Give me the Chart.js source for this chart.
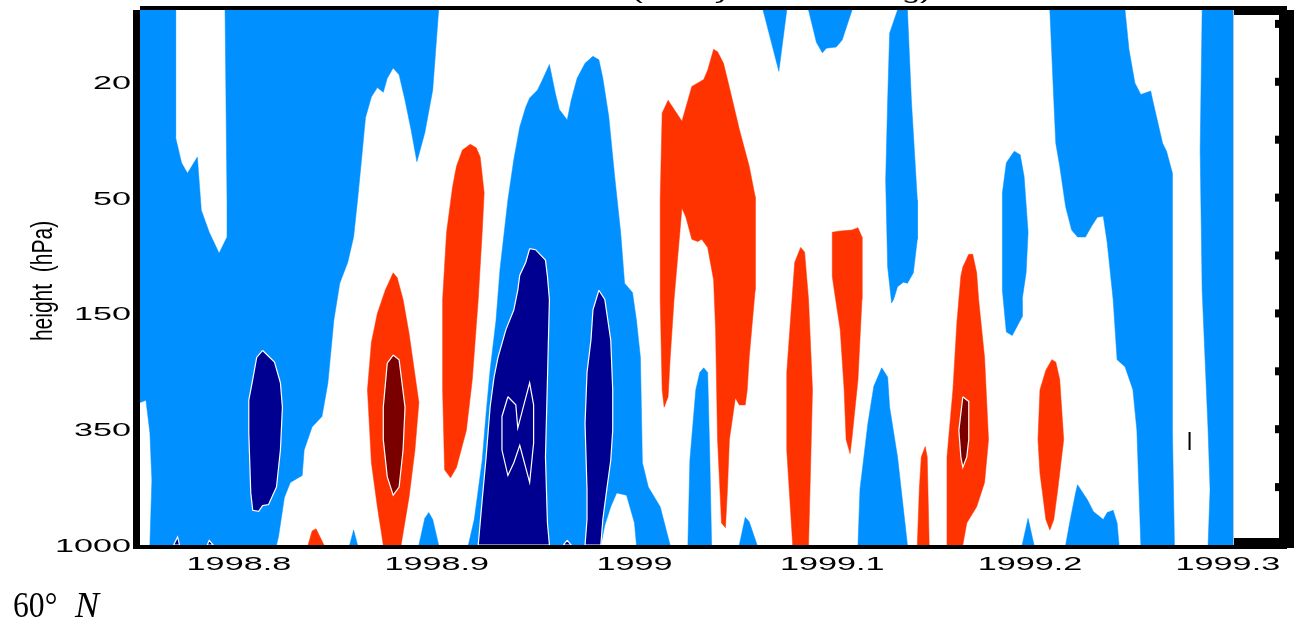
<!DOCTYPE html>
<html>
<head>
<meta charset="utf-8">
<script src="https://cdn.jsdelivr.net/npm/chart.js@4.4.1/dist/chart.umd.min.js"></script>
<style>
    html, body { margin: 0; padding: 0; background: #fff; }
    #wrap { width: 1296px; height: 625px; }
</style>
</head>
<body>
<div id="wrap"><canvas id="section" width="1296" height="625"></canvas></div>
<script>
// 横轴: 时间 (年)
const xTicks = [1998.8, 1998.9, 1999, 1999.1, 1999.2, 1999.3]
const xRange = [1998.75, 1999.3026]
// 纵轴: 模式层序号 0..4 对应的气压 (hPa)
const pressureLabels = ['1000', '350', '150', '50', '20']
const levelTop = 4.62

// 等值线填充区, 每个点为 [时间, 层序号]
// 弱负值 (浅蓝)
const negWeak = [
    [[1998.750,4.62],[1998.768,4.62],[1998.768,3.52],[1998.771,3.30],[1998.774,3.21],[1998.779,3.35],[1998.781,2.89],[1998.785,2.70],[1998.790,2.52],[1998.794,2.66],[1998.794,2.98],[1998.793,4.62],[1998.901,4.62],[1998.898,3.93],[1998.894,3.56],[1998.890,3.31],[1998.887,3.59],[1998.884,3.84],[1998.881,4.06],[1998.878,4.12],[1998.875,4.03],[1998.873,3.91],[1998.870,3.95],[1998.867,3.87],[1998.864,3.69],[1998.862,3.33],[1998.860,2.98],[1998.858,2.66],[1998.855,2.44],[1998.851,2.26],[1998.848,1.94],[1998.845,1.40],[1998.842,1.11],[1998.837,1.02],[1998.833,0.82],[1998.832,0.60],[1998.826,0.54],[1998.823,0.41],[1998.820,0.07],[1998.819,0],[1998.755,0],[1998.756,0.56],[1998.755,0.97],[1998.753,1.25],[1998.750,1.23]],
    [[1998.916,0],[1998.919,0.22],[1998.923,0.73],[1998.925,1.14],[1998.927,1.51],[1998.930,1.94],[1998.932,2.38],[1998.936,2.98],[1998.939,3.33],[1998.942,3.61],[1998.945,3.78],[1998.947,3.86],[1998.951,3.93],[1998.953,4.00],[1998.957,4.15],[1998.960,3.90],[1998.962,3.76],[1998.966,3.67],[1998.968,3.84],[1998.971,4.03],[1998.975,4.16],[1998.979,4.22],[1998.982,4.19],[1998.984,4.03],[1998.987,3.70],[1998.990,3.18],[1998.993,2.70],[1998.995,2.26],[1998.999,2.18],[1999.001,1.94],[1999.003,1.62],[1999.004,0.71],[1999.007,0.50],[1999.013,0.33],[1999.018,0],[1999.001,0],[1999.000,0.19],[1998.996,0.43],[1998.991,0.45],[1998.988,0.33],[1998.985,0.17],[1998.983,0]],
    [[1998.856,0],[1998.858,0.13],[1998.860,0]],
    [[1998.891,0],[1998.894,0.23],[1998.896,0.28],[1998.898,0.22],[1998.901,0]],
    [[1999.027,0],[1999.028,0.73],[1999.031,1.34],[1999.033,1.49],[1999.035,1.53],[1999.037,1.49],[1999.038,0.82],[1999.039,0]],
    [[1999.053,0],[1999.056,0.24],[1999.058,0.20],[1999.062,0]],
    [[1999.113,0],[1999.114,0.48],[1999.118,1.05],[1999.121,1.37],[1999.125,1.53],[1999.128,1.45],[1999.129,1.19],[1999.133,0.76],[1999.138,0]],
    [[1999.065,4.62],[1999.073,4.09],[1999.077,4.62]],
    [[1999.088,4.62],[1999.092,4.34],[1999.095,4.25],[1999.097,4.29],[1999.102,4.30],[1999.105,4.36],[1999.110,4.62]],
    [[1999.128,3.84],[1999.129,4.42],[1999.131,4.52],[1999.133,4.62],[1999.138,4.62],[1999.140,3.84],[1999.143,2.98],[1999.143,2.64],[1999.141,2.35],[1999.138,2.26],[1999.136,2.27],[1999.133,2.23],[1999.131,2.12],[1999.130,2.09],[1999.128,2.40],[1999.127,3.15]],
    [[1999.188,3.30],[1999.192,3.40],[1999.195,3.37],[1999.197,3.18],[1999.199,2.70],[1999.198,2.35],[1999.196,2.12],[1999.196,1.97],[1999.191,1.81],[1999.188,1.84],[1999.186,2.20],[1999.186,2.70],[1999.186,3.04]],
    [[1999.210,4.62],[1999.212,3.84],[1999.213,3.47],[1999.215,3.27],[1999.218,2.92],[1999.221,2.72],[1999.224,2.66],[1999.228,2.66],[1999.231,2.75],[1999.234,2.83],[1999.237,2.84],[1999.239,2.61],[1999.242,2.12],[1999.244,1.60],[1999.248,1.54],[1999.252,1.34],[1999.254,0.99],[1999.256,0],[1999.273,0],[1999.272,0.97],[1999.272,2.12],[1999.272,2.70],[1999.272,3.21],[1999.269,3.40],[1999.267,3.47],[1999.262,3.84],[1999.261,3.92],[1999.256,3.89],[1999.253,3.99],[1999.250,4.28],[1999.248,4.62]],
    [[1999.287,4.62],[1999.303,4.62],[1999.303,0],[1999.290,0],[1999.291,0.48],[1999.290,0.99],[1999.287,2.20],[1999.286,3.41]],
    [[1999.196,0],[1999.199,0.23],[1999.202,0]],
    [[1999.218,0],[1999.220,0.19],[1999.223,0.45],[1999.224,0.52],[1999.229,0.39],[1999.232,0.29],[1999.237,0.22],[1999.239,0.28],[1999.242,0.30],[1999.244,0.19],[1999.245,0]]
]
// 强负值 (深蓝)
const negStrong = [
    [[1998.812,1.68],[1998.818,1.58],[1998.821,1.40],[1998.822,1.19],[1998.821,0.82],[1998.819,0.50],[1998.815,0.35],[1998.812,0.34],[1998.810,0.29],[1998.807,0.30],[1998.806,0.45],[1998.805,0.97],[1998.805,1.25],[1998.807,1.43],[1998.809,1.62]],
    [[1998.947,2.56],[1998.950,2.55],[1998.955,2.46],[1998.956,2.32],[1998.957,2.12],[1998.956,1.43],[1998.955,0.76],[1998.956,0.19],[1998.957,0],[1998.921,0],[1998.923,0.39],[1998.925,0.76],[1998.927,1.19],[1998.929,1.45],[1998.931,1.62],[1998.935,1.86],[1998.939,2.03],[1998.941,2.20],[1998.942,2.33],[1998.945,2.44]],
    [[1998.982,2.20],[1998.985,2.12],[1998.988,1.77],[1998.989,1.34],[1998.989,0.99],[1998.988,0.73],[1998.986,0.48],[1998.984,0.22],[1998.983,0],[1998.975,0],[1998.976,0.22],[1998.976,0.48],[1998.975,1.05],[1998.976,1.49],[1998.978,1.77],[1998.979,2.03]],
    [[1998.767,0],[1998.769,0.07],[1998.770,0]],
    [[1998.784,0],[1998.785,0.04],[1998.787,0]],
    [[1998.964,0],[1998.966,0.04],[1998.968,0]]
]
// 最强负值 (只画等值线)
const negStrongest = [
    [[1998.936,1.28],[1998.940,1.21],[1998.941,1.01],[1998.947,1.40],[1998.949,1.21],[1998.949,0.88],[1998.947,0.54],[1998.942,0.86],[1998.939,0.71],[1998.936,0.60],[1998.933,0.82],[1998.933,1.11]]
]
// 弱正值 (橙红)
const posWeak = [
    [[1998.874,2.20],[1998.878,2.35],[1998.880,2.31],[1998.883,2.12],[1998.886,1.83],[1998.891,1.23],[1998.889,0.82],[1998.886,0.41],[1998.882,0],[1998.873,0],[1998.870,0.33],[1998.867,0.71],[1998.865,1.34],[1998.867,1.75],[1998.870,2.00]],
    [[1998.917,3.46],[1998.920,3.43],[1998.922,3.35],[1998.924,3.04],[1998.923,2.70],[1998.921,2.12],[1998.918,1.43],[1998.915,0.99],[1998.910,0.67],[1998.907,0.58],[1998.904,0.65],[1998.903,1.34],[1998.903,2.12],[1998.905,2.70],[1998.908,3.09],[1998.910,3.27],[1998.913,3.41]],
    [[1999.015,1.19],[1999.014,1.34],[1999.013,2.12],[1999.013,2.98],[1999.014,3.73],[1999.017,3.84],[1999.024,3.66],[1999.029,3.96],[1999.035,4.02],[1999.037,4.10],[1999.040,4.28],[1999.042,4.26],[1999.045,4.16],[1999.048,3.95],[1999.053,3.59],[1999.058,3.27],[1999.061,3.01],[1999.061,2.20],[1999.058,1.62],[1999.057,1.34],[1999.056,1.21],[1999.053,1.21],[1999.051,1.27],[1999.048,0.91],[1999.047,0.48],[1999.046,0.15],[1999.044,0.19],[1999.042,0.91],[1999.041,1.86],[1999.040,2.29],[1999.037,2.57],[1999.034,2.64],[1999.032,2.62],[1999.029,2.64],[1999.026,2.83],[1999.024,2.91],[1999.020,2.12],[1999.018,1.60],[1999.017,1.28]],
    [[1999.084,2.57],[1999.086,2.53],[1999.088,2.12],[1999.090,1.34],[1999.089,0.65],[1999.088,0],[1999.080,0],[1999.077,0.82],[1999.077,1.49],[1999.079,1.97],[1999.081,2.44]],
    [[1999.100,2.70],[1999.103,2.71],[1999.110,2.72],[1999.113,2.74],[1999.115,2.66],[1999.115,2.12],[1999.113,1.43],[1999.110,0.93],[1999.109,0.79],[1999.107,0.91],[1999.106,1.34],[1999.104,1.86],[1999.101,2.20],[1999.100,2.32]],
    [[1999.166,2.40],[1999.169,2.51],[1999.171,2.51],[1999.173,2.35],[1999.174,2.12],[1999.177,1.62],[1999.179,0.91],[1999.177,0.54],[1999.173,0.33],[1999.168,0.19],[1999.166,0],[1999.158,0],[1999.158,0.76],[1999.161,1.34],[1999.163,1.92],[1999.165,2.32]],
    [[1999.147,0.85],[1999.148,0.76],[1999.149,0],[1999.143,0],[1999.144,0.48],[1999.145,0.76]],
    [[1999.211,1.60],[1999.213,1.58],[1999.215,1.43],[1999.217,0.91],[1999.214,0.48],[1999.212,0.22],[1999.210,0.13],[1999.208,0.22],[1999.205,0.62],[1999.204,0.91],[1999.205,1.34],[1999.208,1.51]],
    [[1998.835,0],[1998.837,0.12],[1998.839,0.14],[1998.843,0]]
]
// 强正值 (暗红)
const posStrong = [
    [[1998.878,1.64],[1998.881,1.60],[1998.884,1.19],[1998.883,0.82],[1998.881,0.50],[1998.878,0.43],[1998.875,0.59],[1998.873,0.91],[1998.873,1.19],[1998.875,1.57]],
    [[1999.166,1.28],[1999.169,1.24],[1999.169,0.91],[1999.168,0.76],[1999.166,0.67],[1999.165,0.76],[1999.164,0.99]]
]

// 从下到上的叠放顺序
const bands = [
    { shapes: negWeak, color: '#0090ff', edge: null },
    { shapes: posWeak, color: '#ff3300', edge: null },
    { shapes: negStrong, color: '#000090', edge: '#ffffff' },
    { shapes: posStrong, color: '#7a0000', edge: '#ffffff' },
    { shapes: negStrongest, color: '#000090', edge: '#ffffff' }
]

const datasets = []
bands.forEach(band => {
    band.shapes.forEach(shape => {
        // 首尾相接, 让边线闭合
        const pts = shape.concat([shape[0]]).map(([x, y]) => ({ x, y }))
        datasets.push({
            data: pts,
            fill: 'shape',
            backgroundColor: band.color,
            borderColor: band.edge || band.color,
            borderWidth: band.edge ? 1.2 : 0.5,
            pointRadius: 0,
            tension: 0
        })
    })
})
// 数值越大越先画 (在最底层)
datasets.forEach((ds, i) => { ds.order = datasets.length - i })

// 横向拉伸的文字
function stretchText(ctx, text, x, y, sx, align) {
    ctx.save()
    ctx.translate(x, y)
    ctx.scale(sx, 1)
    ctx.textAlign = align
    ctx.textBaseline = 'alphabetic'
    ctx.fillText(text, 0, 0)
    ctx.restore()
}

// 边框, 色标框, 刻度和文字
const framePlugin = {
    id: 'frame',
    afterDraw(chart) {
        const ctx = chart.ctx
        const { left, right, top, bottom } = chart.chartArea
        const xs = chart.scales.x
        const ys = chart.scales.y
        ctx.save()

        ctx.fillStyle = '#000'
        ctx.fillRect(left - 7, top, 7, bottom - top + 4)
        ctx.fillRect(left, top - 4, right - left + 54, 4)
        ctx.fillRect(left - 7, bottom, right - left + 61, 4)

        // 色标框 (右侧)
        ctx.fillStyle = '#b8c4d0'
        ctx.fillRect(right, top, 1, bottom - top)
        ctx.fillStyle = '#000'
        ctx.fillRect(right + 1, top, 46, 5)
        ctx.fillRect(right + 1, bottom - 7, 46, 7)
        ctx.fillRect(right + 46, top, 15, bottom - top + 3)
        for (let v = 0.5; v < ys.max; v += 0.5) {
            ctx.fillRect(right + 42, ys.getPixelForValue(v) - 4, 4, 8)
        }

        // 刻度标签
        ctx.font = '19px "Liberation Sans", Arial, sans-serif'
        xTicks.forEach(v => {
            stretchText(ctx, String(v), xs.getPixelForValue(v), bottom + 25, 1.8, 'center')
        })
        pressureLabels.forEach((t, i) => {
            stretchText(ctx, t, left - 9, ys.getPixelForValue(i) + 7, 1.8, 'right')
        })

        // 纵轴标题
        ctx.save()
        ctx.font = '21px "Liberation Sans", Arial, sans-serif'
        ctx.translate(52, 281)
        ctx.scale(1.4, 1)
        ctx.rotate(-Math.PI / 2)
        ctx.textAlign = 'center'
        ctx.fillText('height  (hPa)', 0, 0)
        ctx.restore()

        // 图题 (大部分在画布外)
        ctx.font = '18px "Liberation Sans", Arial, sans-serif'
        stretchText(ctx, '(hourly wind filtering)', 632, -1, 1.8, 'left')

        // 图中的小标记
        ctx.font = '23px "Liberation Sans", Arial, sans-serif'
        ctx.textAlign = 'center'
        ctx.fillText('l', 1189.5, 450)

        // 纬度
        ctx.font = '36px "Liberation Serif", serif'
        stretchText(ctx, '60°', 13, 617, 0.88, 'left')
        ctx.font = 'italic 36px "Liberation Serif", serif'
        ctx.textAlign = 'left'
        ctx.fillText('N', 75, 617)

        ctx.restore()
    }
}

const ctx = document.getElementById('section').getContext('2d')
const sectionChart = new Chart(ctx, {
    type: 'line',
    data: { datasets },
    options: {
        responsive: false,
        devicePixelRatio: 1,
        animation: false,
        events: [],
        layout: { padding: { left: 140, top: 10, right: 63, bottom: 80 } },
        plugins: {
            legend: { display: false },
            tooltip: { enabled: false }
        },
        scales: {
            x: { type: 'linear', min: xRange[0], max: xRange[1], display: false },
            y: { type: 'linear', min: 0, max: levelTop, display: false }
        }
    },
    plugins: [framePlugin]
})
</script>
</body>
</html>
